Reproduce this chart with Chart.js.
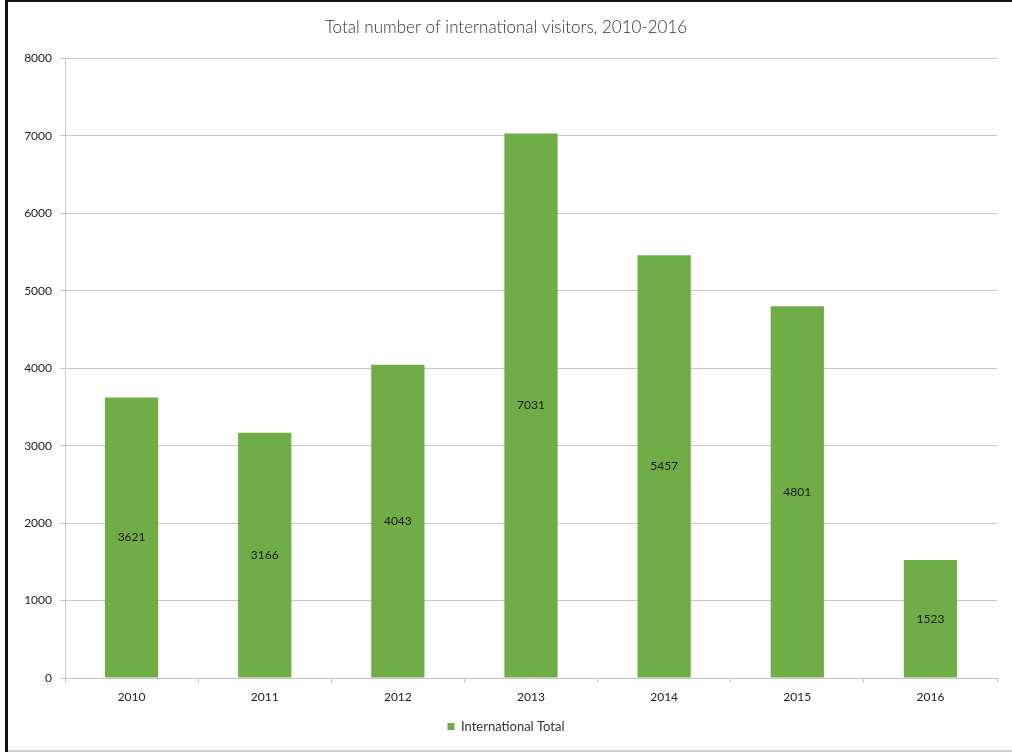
<!DOCTYPE html>
<html>
<head>
<meta charset="utf-8">
<title>Total number of international visitors, 2010-2016</title>
<script src="https://cdn.jsdelivr.net/npm/chart.js@4/dist/chart.umd.min.js"></script>
<style>
  html, body { margin: 0; padding: 0; background: #ffffff; }
  #wrap { position: relative; width: 1012px; height: 752px; }
  canvas { display: block; }
</style>
</head>
<body>
<div id="wrap"><canvas id="chart" width="1012" height="752"></canvas></div>
<script>
// Visitor counts per year
const years = ['2010', '2011', '2012', '2013', '2014', '2015', '2016'];
const internationalTotal = [3621, 3166, 4043, 7031, 5457, 4801, 1523];
const yTicks = [0, 1000, 2000, 3000, 4000, 5000, 6000, 7000, 8000];

const FONT = 'Lato, "Open Sans", "DejaVu Sans", sans-serif';
const BAR_GREEN = '#70ad47';
const GRID_GREY = '#c6c6c6';

// Writes each bar's value in the middle of the bar
const barValueLabels = {
  id: 'barValueLabels',
  afterDatasetsDraw(chart) {
    const { ctx } = chart;
    chart.data.datasets.forEach((ds, di) => {
      const meta = chart.getDatasetMeta(di);
      meta.data.forEach((bar, i) => {
        const props = bar.getProps(['x', 'y', 'base'], true);
        ctx.save();
        ctx.font = '12px ' + FONT;
        ctx.fillStyle = '#1a1a1a';
        ctx.textAlign = 'center';
        ctx.textBaseline = 'middle';
        ctx.fillText(String(ds.data[i]), props.x, (props.y + props.base) / 2);
        ctx.restore();
      });
    });
  }
};

// Frame lines around the figure
const frame = {
  id: 'frame',
  afterDraw(chart) {
    const { ctx, width, height } = chart;
    ctx.save();
    ctx.fillStyle = '#111111';
    ctx.fillRect(5, 0, width - 5, 2);
    ctx.fillRect(5, 0, 3, height);
    ctx.fillStyle = '#d0d0d0';
    ctx.fillRect(8, height - 2, width - 8, 2);
    ctx.restore();
  }
};

new Chart(document.getElementById('chart'), {
  type: 'bar',
  data: {
    labels: years,
    datasets: [{
      label: 'International Total',
      data: internationalTotal,
      backgroundColor: BAR_GREEN,
      borderWidth: 0,
      categoryPercentage: 1.0,
      barPercentage: 0.4
    }]
  },
  options: {
    responsive: false,
    animation: false,
    devicePixelRatio: 1,
    layout: { padding: { left: 15, right: 15, top: 0, bottom: 9 } },
    plugins: {
      title: {
        display: true,
        text: 'Total number of international visitors, 2010-2016',
        color: '#333333',
        font: { family: FONT, size: 17, weight: '300' },
        padding: { top: 17, bottom: 21 }
      },
      legend: {
        display: true,
        position: 'bottom',
        labels: {
          color: '#333333',
          font: { family: FONT, size: 13 },
          boxWidth: 7,
          boxHeight: 7,
          padding: 9
        }
      },
      tooltip: { enabled: false }
    },
    scales: {
      x: {
        grid: {
          display: true,
          drawOnChartArea: false,
          drawTicks: true,
          tickLength: 5,
          color: GRID_GREY,
          offset: true
        },
        border: { display: true, color: GRID_GREY, width: 1 },
        ticks: {
          color: '#222222',
          font: { family: FONT, size: 12 },
          padding: 7,
          maxRotation: 0
        },
        afterFit(scale) { scale.height = 33; }
      },
      y: {
        min: 0,
        max: 8000,
        afterBuildTicks(scale) { scale.ticks = yTicks.map(v => ({ value: v })); },
        grid: {
          color: GRID_GREY,
          drawTicks: true,
          tickLength: 5
        },
        border: { display: true, color: GRID_GREY, width: 1 },
        ticks: {
          color: '#222222',
          font: { family: FONT, size: 12 },
          padding: 8,
          callback: (v) => String(v)
        },
        afterFit(scale) { scale.width = 50; }
      }
    }
  },
  plugins: [barValueLabels, frame]
});
</script>
</body>
</html>
